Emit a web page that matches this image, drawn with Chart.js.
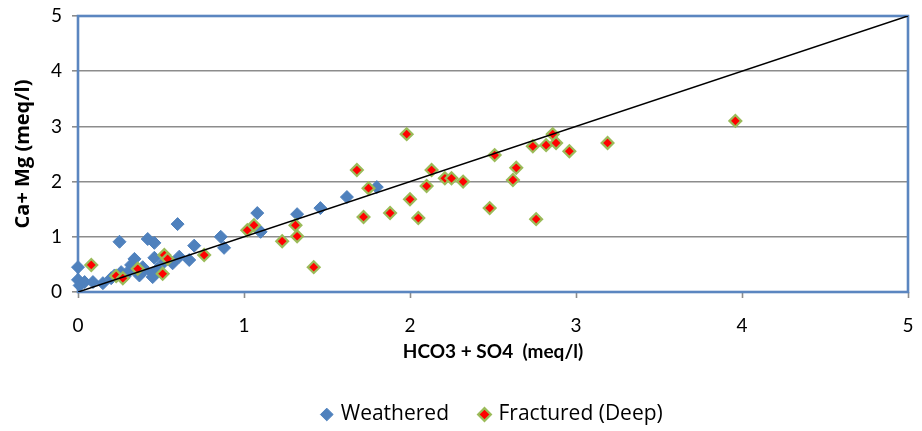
<!DOCTYPE html>
<html>
<head>
<meta charset="utf-8">
<script src="https://cdn.jsdelivr.net/npm/chart.js@4.4.1/dist/chart.umd.min.js"></script>
<style>
  html, body { margin: 0; padding: 0; background: #ffffff; overflow: hidden; }
  #wrap { width: 922px; height: 431px; position: relative; }
</style>
</head>
<body>
<div id="wrap"><canvas id="c"></canvas></div>
<script>
// ---- Data ----
const weatheredX = [0.0,0.0,0.01,0.04,0.09,0.15,0.2,0.22,0.26,0.28,0.3,0.32,0.34,0.37,0.39,0.4,0.45,0.45,0.48,0.46,0.52,0.57,0.61,0.67,0.25,0.42,0.46,0.60,0.70,0.86,0.88,1.08,1.10,1.32,1.46,1.62,1.80];
const weatheredY = [0.45,0.22,0.12,0.18,0.18,0.16,0.25,0.3,0.36,0.28,0.36,0.49,0.6,0.3,0.45,0.4,0.34,0.27,0.42,0.62,0.55,0.52,0.64,0.58,0.91,0.96,0.89,1.23,0.84,1.0,0.8,1.43,1.09,1.41,1.52,1.72,1.90];
const fracturedX = [0.08,0.23,0.27,0.36,0.51,0.52,0.54,0.76,1.02,1.06,1.23,1.31,1.32,1.42,1.68,1.72,1.75,1.88,1.98,2.00,2.05,2.10,2.13,2.21,2.25,2.32,2.48,2.51,2.62,2.64,2.74,2.76,2.82,2.86,2.88,2.96,3.19,3.96];
const fracturedY = [0.49,0.29,0.25,0.42,0.33,0.67,0.60,0.67,1.12,1.21,0.92,1.21,1.01,0.45,2.21,1.36,1.88,1.43,2.86,1.68,1.34,1.92,2.21,2.06,2.06,2.00,1.52,2.48,2.03,2.25,2.64,1.32,2.66,2.86,2.70,2.55,2.70,3.10];
const lineX = [0, 5];
const lineY = [0, 5];
const seriesNames = ["Weathered", "Fractured (Deep)"];
const axisMin = 0, axisMax = 5, axisStep = 1;
const xTitle = "HCO3 + SO4  (meq/l)";
const yTitle = "Ca+ Mg (meq/l)";

const toPts = (xs, ys) => xs.map((x, i) => ({ x: x, y: ys[i] }));

const plotBorder = {
  id: 'plotBorder',
  beforeDatasetsDraw(chart) {
    const { ctx, chartArea: a } = chart;
    ctx.save();
    ctx.strokeStyle = '#5B86C0';
    ctx.lineWidth = 2.6;
    ctx.strokeRect(a.left, a.top, a.right - a.left, a.bottom - a.top);
    ctx.restore();
  }
};

new Chart(document.getElementById('c'), {
  type: 'scatter',
  data: {
    datasets: [
      {
        label: seriesNames[0],
        data: toPts(weatheredX, weatheredY),
        pointStyle: 'rectRot',
        pointRadius: 6.5,
        backgroundColor: '#4F81BD',
        borderColor: '#4F81BD',
        borderWidth: 1,
        clip: false,
        order: 2
      },
      {
        label: seriesNames[1],
        data: toPts(fracturedX, fracturedY),
        pointStyle: 'rectRot',
        pointRadius: 5.9,
        backgroundColor: '#FF0000',
        borderColor: '#9BBB59',
        borderWidth: 2.2,
        clip: false,
        order: 1
      },
      {
        type: 'line',
        label: 'trend',
        data: toPts(lineX, lineY),
        borderColor: '#000000',
        borderWidth: 1.6,
        pointRadius: 0,
        fill: false,
        order: 0
      }
    ]
  },
  options: {
    responsive: true,
    maintainAspectRatio: false,
    animation: false,
    layout: { padding: { left: 0, right: 14, top: 16, bottom: -4 } },
    plugins: {
      tooltip: { enabled: false },
      legend: {
        position: 'bottom',
        fullSize: false,
        labels: {
          usePointStyle: true,
          boxWidth: 7,
          boxHeight: 9,
          padding: 32,
          color: '#000000',
          font: { family: 'Open Sans', size: 21 },
          filter: (item) => item.datasetIndex < 2,
          sort: (a, b) => a.datasetIndex - b.datasetIndex
        }
      }
    },
    scales: {
      x: {
        type: 'linear',
        min: axisMin, max: axisMax,
        afterFit: (s) => { s.height = 80; s.paddingLeft = 0; s.paddingRight = 0; },
        ticks: { stepSize: axisStep, color: '#000', padding: 16, font: { family: 'Lato', size: 19 } },
        grid: { drawOnChartArea: false, drawTicks: true, tickLength: 6, tickColor: '#8C8C8C', tickWidth: 1.6 },
        border: { display: false },
        title: { display: true, text: xTitle, color: '#000', font: { family: 'Lato', size: 19, weight: 'bold' }, padding: { top: 0, bottom: 9 } }
      },
      y: {
        type: 'linear',
        min: axisMin, max: axisMax,
        afterFit: (s) => { s.width = 78; s.paddingTop = 0; s.paddingBottom = 0; },
        ticks: { stepSize: axisStep, color: '#000', padding: 10, font: { family: 'Lato', size: 19 } },
        grid: { color: '#8C8C8C', lineWidth: 1.6, drawTicks: true, tickLength: 6, tickColor: '#8C8C8C' },
        border: { display: false },
        title: { display: true, text: yTitle, color: '#000', font: { family: 'Open Sans', size: 20, weight: 'bold' }, padding: { top: 11, bottom: 0 } }
      }
    }
  },
  plugins: [plotBorder]
});
</script>
</body>
</html>
